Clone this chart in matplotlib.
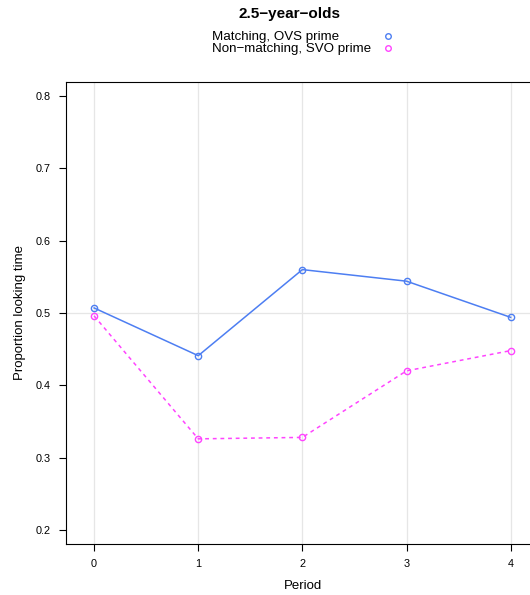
import matplotlib
matplotlib.use("Agg")
import matplotlib.pyplot as plt

plt.rcParams['font.family'] = ['Liberation Sans', 'DejaVu Sans']

# mean proportion of looking time per period
periods = [0, 1, 2, 3, 4]
matching = [0.507, 0.441, 0.560, 0.544, 0.494]
non_matching = [0.496, 0.326, 0.328, 0.420, 0.448]
labels = ["Matching, OVS prime", "Non\u2212matching, SVO prime"]
yticks = [0.2, 0.3, 0.4, 0.5, 0.6, 0.7, 0.8]

blue = "#4d7ef2"
pink = "#ff44ff"

fig = plt.figure(figsize=(5.3, 5.95), dpi=100)
ax = fig.add_axes([0.1245, 0.0857, 0.894, 0.7765])

# light reference grid: verticals at each period, one horizontal at 0.5
for p in periods:
    ax.axvline(p, color="#e6e6e6", lw=0.9, zorder=0)
ax.axhline(0.5, color="#e6e6e6", lw=0.9, zorder=0)

ax.plot(periods, matching, color=blue, lw=1.1, ls="-",
        marker="o", ms=4.5, mfc="none", mec=blue, mew=1.0)
ax.plot(periods, non_matching, color=pink, lw=1.1, ls=(0, (2.5, 2.5)),
        marker="o", ms=4.5, mfc="none", mec=pink, mew=1.0)

ax.set_xlim(-0.27, 4.28)
ax.set_ylim(0.1806, 0.8194)
ax.set_xticks(periods)
ax.set_yticks(yticks)
ax.set_yticklabels([f"{v:.1f}" for v in yticks])
ax.tick_params(direction="out", length=5, width=0.8, labelsize=7.8, pad=6,
               top=False, right=False)
for s in ax.spines.values():
    s.set_linewidth(0.8)

ax.set_xlabel("Period", fontsize=9.5, labelpad=8)
ax.set_ylabel("Proportion looking time", fontsize=9.5, labelpad=7)

fig.text(0.547, 0.976, "2.5\u2212year\u2212olds", ha="center", va="center",
         fontsize=11, fontweight="bold")
fig.text(0.40, 0.938, labels[0], ha="left", va="center", fontsize=9.6)
fig.text(0.40, 0.918, labels[1], ha="left", va="center", fontsize=9.6)
fig.lines.append(plt.Line2D([0.732], [0.939], transform=fig.transFigure,
                            marker="o", ms=4, mfc="none", mec=blue, mew=1.0))
fig.lines.append(plt.Line2D([0.732], [0.919], transform=fig.transFigure,
                            marker="o", ms=4, mfc="none", mec=pink, mew=1.0))

fig.savefig("out.png", dpi=100)
